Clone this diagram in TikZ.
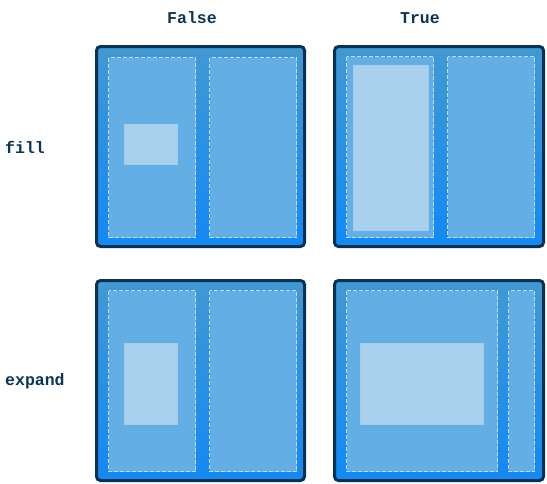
\documentclass[tikz,border=0pt]{standalone}
\usepackage{fontspec}
\setmonofont{Liberation Mono}
\begin{document}
\begin{tikzpicture}[x=1pt,y=-1pt,
  panel/.style={line width=3pt, draw=navyc, top color=topc, bottom color=botc, rounded corners=4pt},
  cell/.style={fill=cellc, draw=dashc, line width=0.9pt, dash pattern=on 4pt off 2pt},
  item/.style={fill=itemc, draw=itemc!90!cellc, line width=0.6pt},
  lbl/.style={font=\ttfamily\bfseries\fontsize{16.5}{16.5}\selectfont, text=labc, inner sep=0pt}
]
\definecolor{navyc}{HTML}{0B3152}
\definecolor{topc}{HTML}{4299D2}
\definecolor{botc}{HTML}{1289F5}
\definecolor{cellc}{HTML}{64AEE6}
\definecolor{dashc}{HTML}{C4DCEF}
\definecolor{itemc}{HTML}{A9D0EC}
\definecolor{labc}{HTML}{0B3556}
\useasboundingbox (0,0) rectangle (547,483);
\fill[white] (0,0) rectangle (547,483);

% labels
\node[lbl] (hfalse) at (192,18) {False};
\node[lbl] (htrue) at (420,18) {True};
\node[lbl, anchor=west] (rfill) at (5,147) {fill};
\node[lbl, anchor=west] (rexpand) at (5,381) {expand};

% panel 1: fill=False
\draw[panel] (96.5,46.5) rectangle (304.5,246.5);
\draw[cell] (108.5,57.5) rectangle (195.5,237.5);
\draw[cell] (209.5,57.5) rectangle (296.5,237.5);
\fill[item] (124,124) rectangle (177,164);

% panel 2: fill=True
\draw[panel] (334.5,46.5) rectangle (543.5,246.5);
\draw[cell] (346.5,56.5) rectangle (433.5,237.5);
\draw[cell] (447.5,56.5) rectangle (534.5,237.5);
\fill[item] (353,65) rectangle (428,230);

% panel 3: expand=False
\draw[panel] (96.5,280.5) rectangle (304.5,480.5);
\draw[cell] (108.5,290.5) rectangle (195.5,471.5);
\draw[cell] (209.5,290.5) rectangle (296.5,471.5);
\fill[item] (124,343) rectangle (177,424);

% panel 4: expand=True
\draw[panel] (334.5,280.5) rectangle (543.5,480.5);
\draw[cell] (346.5,290.5) rectangle (497.5,471.5);
\draw[cell] (508.5,290.5) rectangle (534.5,471.5);
\fill[item] (360,343) rectangle (483,424);
\end{tikzpicture}
\end{document}
